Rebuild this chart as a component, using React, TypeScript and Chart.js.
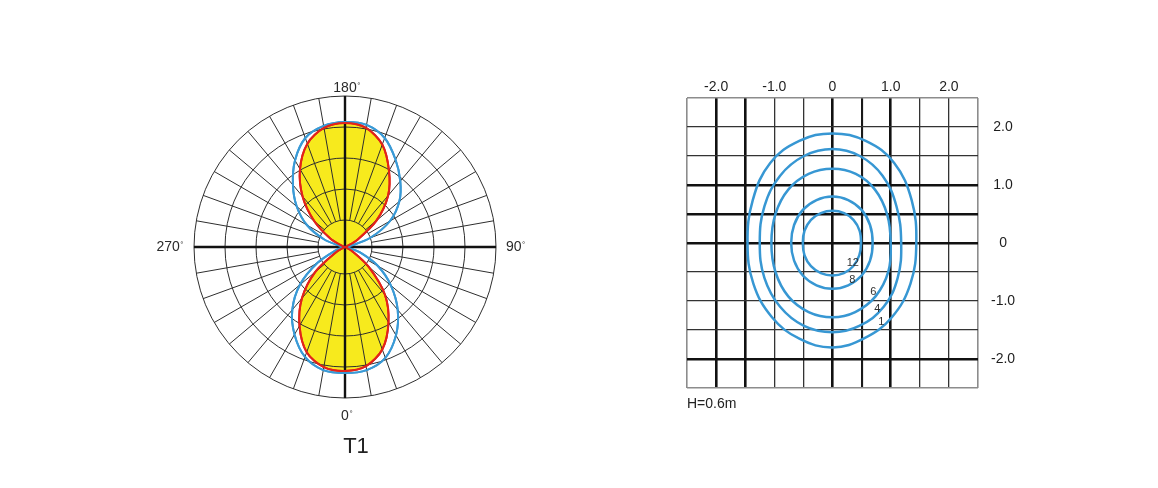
import React, { useEffect, useRef } from 'react';
import { Chart, registerables } from 'chart.js';

Chart.register(...registerables);

// ---------- Polar luminous-intensity diagram ----------
// Angles every 10°, listed clockwise starting from 0° at the bottom.
const polarAngles = [0, 350, 340, 330, 320, 310, 300, 290, 280, 270, 260, 250, 240, 230, 220, 210, 200, 190,
  180, 170, 160, 150, 140, 130, 120, 110, 100, 90, 80, 70, 60, 50, 40, 30, 20, 10];
// Intensity in the red (filled) plane and the blue plane, same angle order.
const intensityRed = [124, 122, 112, 91, 67, 39, 10, 0, 0, 0, 0, 3, 17, 40, 66, 90, 110, 121,
  124, 121, 109, 88, 67, 41, 14, 2, 0, 0, 0, 0, 8, 31, 62, 87, 109, 121];
const intensityBlue = [126, 125, 117, 101, 82, 59, 32, 10, 2, 0, 4, 22, 44, 63, 81, 100, 116, 123,
  125, 124, 116, 101, 86, 71, 52, 27, 5, 0, 3, 16, 38, 60, 82, 102, 118, 125];
const ringValues = [27, 58, 89, 120, 151];
const polarMax = 151;
const cardinalIndex = [0, 9, 18, 27];
const cardinalText = ['0', '270', '180', '90'];
const polarTitle = 'T1';

// ---------- Isolux diagram (metres) ----------
const isoLevels = ['1', '4', '6', '8', '12'];
const iso1 = [[0, 1.89], [0.57, 1.76], [1.06, 1.38], [1.36, 0.74], [1.44, 0], [1.34, -0.7], [1.02, -1.28], [0.55, -1.64],
  [0, -1.8], [-0.57, -1.65], [-1.04, -1.28], [-1.36, -0.7], [-1.46, 0], [-1.37, 0.74], [-1.07, 1.38], [-0.57, 1.76]];
const iso4 = [[0, 1.62], [0.47, 1.5], [0.86, 1.16], [1.1, 0.63], [1.18, 0], [1.12, -0.6], [0.88, -1.1], [0.46, -1.43],
  [0, -1.54], [-0.49, -1.43], [-0.9, -1.1], [-1.17, -0.6], [-1.25, 0], [-1.17, 0.63], [-0.9, 1.16], [-0.49, 1.5]];
const iso6 = [[0, 1.28], [0.4, 1.19], [0.73, 0.92], [0.94, 0.49], [1.0, 0], [0.96, -0.49], [0.74, -0.92], [0.39, -1.19],
  [0, -1.28], [-0.41, -1.19], [-0.76, -0.92], [-0.98, -0.5], [-1.05, 0], [-0.98, 0.5], [-0.76, 0.92], [-0.41, 1.19]];
const iso8 = [[0, 0.8], [0.27, 0.74], [0.5, 0.57], [0.645, 0.31], [0.69, 0], [0.645, -0.305], [0.5, -0.56], [0.27, -0.73],
  [0, -0.79], [-0.275, -0.73], [-0.51, -0.56], [-0.66, -0.305], [-0.71, 0], [-0.66, 0.31], [-0.51, 0.57], [-0.275, 0.74]];
const iso12 = [[0, 0.556], [0.2, 0.515], [0.36, 0.4], [0.465, 0.215], [0.49, 0], [0.46, -0.215], [0.355, -0.4], [0.195, -0.52],
  [0, -0.56], [-0.2, -0.52], [-0.37, -0.4], [-0.48, -0.215], [-0.51, 0], [-0.48, 0.215], [-0.37, 0.4], [-0.2, 0.515]];
const isoLabelAt = [[0.84, -1.36], [0.77, -1.13], [0.7, -0.85], [0.34, -0.63], [0.35, -0.35]];
const axisTickValues = [-2, -1, 0, 1, 2];
const mountingHeight = 'H=0.6m';

// ---------- styles ----------
const RED = '#e2231a';
const BLUE = '#3a9ad6';
const ISO_BLUE = '#3797d3';
const YELLOW = '#f7ea1d';
const POLAR_GRID = '#2e2e2e';
const FONT = "'Liberation Sans', Arial, sans-serif";
const heavyX = [-2, -1.5, 0, 1];
const mediumX = [0.5];
const heavyY = [1, 0.5, 0, -2];

function drawDegreeLabel(ctx, text, x, y, align) {
  ctx.font = `14px ${FONT}`;
  const w = ctx.measureText(text).width;
  ctx.font = `8px ${FONT}`;
  const dw = ctx.measureText('°').width;
  let x0 = x;
  if (align === 'center') x0 = x - w / 2;
  else if (align === 'right') x0 = x - w - dw - 1;
  ctx.fillStyle = '#2a2a2a';
  ctx.textAlign = 'left';
  ctx.textBaseline = 'middle';
  ctx.font = `14px ${FONT}`;
  ctx.fillText(text, x0, y);
  ctx.font = `8px ${FONT}`;
  ctx.textBaseline = 'top';
  ctx.fillText('°', x0 + w + 0.5, y - 6);
}

function PolarDiagram() {
  const ref = useRef(null);
  useEffect(() => {
    const overlay = {
      id: 'polarOverlay',
      afterDraw(chart) {
        const ctx = chart.ctx;
        const r: any = chart.scales.r;
        const inner = r.getDistanceFromCenterForValue(ringValues[0]);
        const outer = r.getDistanceFromCenterForValue(r.max);
        ctx.save();
        // thin spokes from the first ring out to the rim
        ctx.strokeStyle = POLAR_GRID;
        ctx.lineWidth = 1;
        ctx.beginPath();
        polarAngles.forEach((_, i) => {
          if (cardinalIndex.includes(i)) return;
          const a = r.getPointPosition(i, inner);
          const b = r.getPointPosition(i, outer);
          ctx.moveTo(a.x, a.y);
          ctx.lineTo(b.x, b.y);
        });
        ctx.stroke();
        // heavy main axes through the centre
        ctx.strokeStyle = '#111';
        ctx.lineWidth = 2.4;
        ctx.beginPath();
        cardinalIndex.forEach((i) => {
          const b = r.getPointPosition(i, outer);
          ctx.moveTo(r.xCenter, r.yCenter);
          ctx.lineTo(b.x, b.y);
        });
        ctx.stroke();
        ctx.restore();

        // intensity curves above the grid
        [1, 0].forEach((d) => {
          const meta = chart.getDatasetMeta(d);
          if (meta.dataset) meta.dataset.draw(ctx, chart.chartArea);
        });

        ctx.save();
        const top = r.getPointPosition(18, outer + 8);
        drawDegreeLabel(ctx, cardinalText[2], top.x, top.y, 'center');
        const bottom = r.getPointPosition(0, outer + 18);
        drawDegreeLabel(ctx, cardinalText[0], bottom.x, bottom.y, 'center');
        const left = r.getPointPosition(9, outer + 10);
        drawDegreeLabel(ctx, cardinalText[1], left.x, left.y, 'right');
        const right = r.getPointPosition(27, outer + 10);
        drawDegreeLabel(ctx, cardinalText[3], right.x, right.y, 'left');

        ctx.font = `22px ${FONT}`;
        ctx.fillStyle = '#222';
        ctx.textAlign = 'center';
        ctx.textBaseline = 'middle';
        ctx.fillText(polarTitle, r.xCenter + 11, r.yCenter + 200);
        ctx.restore();
      },
    };

    const chart = new Chart(ref.current, {
      type: 'radar',
      data: {
        labels: polarAngles.map(String),
        datasets: [
          {
            data: intensityRed,
            borderColor: RED,
            borderWidth: 2,
            backgroundColor: YELLOW,
            fill: 'start',
            pointRadius: 0,
            tension: 0.3,
          },
          {
            data: intensityBlue,
            borderColor: BLUE,
            borderWidth: 2,
            fill: false,
            pointRadius: 0,
            tension: 0.3,
          },
        ],
      },
      options: {
        animation: false,
        responsive: false,
        layout: { padding: { left: 64, right: 64, top: 36, bottom: 72 } },
        plugins: { legend: { display: false }, tooltip: { enabled: false } },
        scales: {
          r: {
            min: 0,
            max: polarMax,
            startAngle: 180,
            angleLines: { display: false },
            grid: { circular: true, color: POLAR_GRID, lineWidth: 1, z: 1 },
            ticks: { display: false },
            pointLabels: { display: false },
            afterBuildTicks: (s) => {
              s.ticks = [0, ...ringValues].map((value) => ({ value }));
            },
          },
        },
      },
      plugins: [overlay],
    });
    return () => chart.destroy();
  }, []);
  return (
    <canvas
      ref={ref}
      width={430}
      height={410}
      style={{ position: 'absolute', left: 130, top: 60, width: 430, height: 410 }}
    />
  );
}

function closedContour(points, color) {
  const n = points.length;
  const ring = [points[n - 1], ...points, points[0], points[1]].map(([x, y]) => ({ x, y }));
  return {
    data: ring,
    showLine: true,
    borderColor: color,
    borderWidth: 2.5,
    pointRadius: 0,
    tension: 0.4,
    fill: false,
    segment: {
      borderColor: (c) => (c.p0DataIndex === 0 || c.p0DataIndex === n + 1 ? 'rgba(0,0,0,0)' : color),
    },
  };
}

function gridStyle(v, heavy, medium) {
  if (v === undefined) return { color: '#333', width: 1.2 };
  if (Math.abs(v) === 2.5) return { color: '#8c8c8c', width: 1.6 };
  if (heavy.includes(v)) return { color: '#111', width: 2.6 };
  if (medium.includes(v)) return { color: '#1a1a1a', width: 2.1 };
  return { color: '#333', width: 1.3 };
}

function tickText(v) {
  if (!axisTickValues.includes(v)) return '';
  return v === 0 ? '0' : v.toFixed(1);
}

function IsoluxDiagram() {
  const ref = useRef(null);
  useEffect(() => {
    const labels = {
      id: 'isoLabels',
      afterDatasetsDraw(chart) {
        const { ctx, chartArea } = chart;
        const x: any = chart.scales.x;
        const y: any = chart.scales.y;
        ctx.save();
        ctx.font = `11px ${FONT}`;
        ctx.fillStyle = '#2f2f2f';
        ctx.textAlign = 'center';
        ctx.textBaseline = 'middle';
        isoLevels.forEach((t, i) => {
          ctx.fillText(t, x.getPixelForValue(isoLabelAt[i][0]), y.getPixelForValue(isoLabelAt[i][1]));
        });
        ctx.font = `14px ${FONT}`;
        ctx.fillStyle = '#222';
        ctx.textAlign = 'left';
        ctx.fillText(mountingHeight, chartArea.left, chartArea.bottom + 16);
        ctx.restore();
      },
    };
    const tickFont = { family: FONT, size: 14 };
    const chart = new Chart(ref.current, {
      type: 'scatter',
      data: {
        datasets: [iso1, iso4, iso6, iso8, iso12].map((p) => closedContour(p, ISO_BLUE)),
      },
      options: {
        animation: false,
        responsive: false,
        layout: { padding: { left: 7, right: 12, top: 13, bottom: 32 } },
        plugins: { legend: { display: false }, tooltip: { enabled: false } },
        scales: {
          x: {
            type: 'linear',
            position: 'top',
            min: -2.5,
            max: 2.5,
            afterFit: (s) => { s.height = 25; },
            border: { display: false },
            grid: {
              drawTicks: false,
              color: (c) => gridStyle(c.tick && c.tick.value, heavyX, mediumX).color,
              lineWidth: (c) => gridStyle(c.tick && c.tick.value, heavyX, mediumX).width,
            },
            ticks: {
              stepSize: 0.5,
              autoSkip: false,
              maxRotation: 0,
              padding: 2,
              color: '#1e1e1e',
              font: tickFont,
              callback: (v) => tickText(v),
            },
          },
          y: {
            type: 'linear',
            position: 'right',
            min: -2.5,
            max: 2.5,
            afterFit: (s) => { s.width = 40; },
            border: { display: false },
            grid: {
              drawTicks: false,
              color: (c) => gridStyle(c.tick && c.tick.value, heavyY, []).color,
              lineWidth: (c) => gridStyle(c.tick && c.tick.value, heavyY, []).width,
            },
            ticks: {
              stepSize: 0.5,
              autoSkip: false,
              padding: 13,
              crossAlign: 'center',
              color: '#1e1e1e',
              font: tickFont,
              callback: (v) => tickText(v),
            },
          },
        },
      },
      plugins: [labels],
    });
    return () => chart.destroy();
  }, []);
  return (
    <canvas
      ref={ref}
      width={350}
      height={360}
      style={{ position: 'absolute', left: 680, top: 60, width: 350, height: 360 }}
    />
  );
}

export default function App() {
  return (
    <div style={{ position: 'absolute', left: 0, top: 0, width: 1158, height: 488, background: '#fff', overflow: 'hidden' }}>
      <PolarDiagram />
      <IsoluxDiagram />
    </div>
  );
}
